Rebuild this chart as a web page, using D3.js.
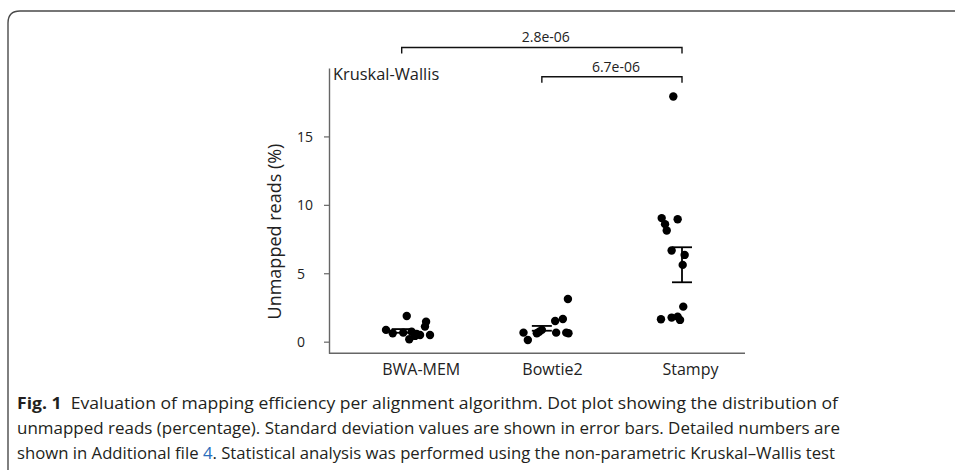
<!DOCTYPE html>
<html>
<head>
<meta charset="utf-8">
<script src="https://cdn.jsdelivr.net/npm/d3@7"></script>
<style>
  body { margin: 0; background: #fff; }
  svg { display: block; }
</style>
</head>
<body>
<div id="chartDiv"></div>
<script>
// categories and readings taken from the figure
const categories = ['BWA-MEM', 'Bowtie2', 'Stampy']

const bwaValues = [0.86, 0.61, 1.88, 0.66, 0.18, 0.73, 0.56, 0.49, 1.46, 1.10, 0.49, 0.42]
const bwaJitter = [-0.112, -0.064, 0.036, 0.011, 0.054, 0.071, 0.107, 0.131, 0.174, 0.166, 0.202, 0.095]

const bowtieValues = [0.66, 0.12, 0.61, 0.73, 0.86, 1.51, 0.66, 1.66, 0.66, 0.61, 3.12]
const bowtieJitter = [-0.131, -0.1, -0.036, -0.019, 0, 0.095, 0.102, 0.15, 0.174, 0.19, 0.186]

const stampyValues = [9.03, 8.59, 8.12, 8.95, 6.66, 6.34, 5.61, 2.56, 1.64, 1.76, 1.83, 1.59, 17.92]
const stampyJitter = [-0.145, -0.121, -0.109, -0.031, -0.074, 0.019, 0.005, 0.009, -0.15, -0.074, -0.031, -0.014, -0.062]

// error bar ends per category
const errLow = [0.65, 0.80, 4.34]
const errHigh = [0.92, 1.15, 6.90]

const yTicks = [0, 5, 10, 15]

// pairwise comparisons (Kruskal-Wallis)
const compFrom = ['BWA-MEM', 'Bowtie2']
const compTo = ['Stampy', 'Stampy']
const compP = ['2.8e-06', '6.7e-06']
const compLevel = [21.5, 19.36]

const captionLines = [
  'Evaluation of mapping efficiency per alignment algorithm. Dot plot showing the distribution of',
  'unmapped reads (percentage). Standard deviation values are shown in error bars. Detailed numbers are',
  'shown in Additional file ', '4', '. Statistical analysis was performed using the non-parametric Kruskal\u2013Wallis test'
]

const width = 955
const height = 470
const margin = { top: 68, right: 255, bottom: 116.7, left: 329 }
const font = '"Open Sans", "Noto Sans", sans-serif'

const svg = d3.select('#chartDiv').append('svg')
  .attr('width', width)
  .attr('height', height)

// figure frame with rounded top-left corner
svg.append('path')
  .attr('d', 'M8,470 V23 Q8,11 20,11 H955')
  .attr('fill', 'none')
  .attr('stroke', '#4a4a4a')
  .attr('stroke-width', 1.4)

const xScale = d3.scalePoint()
  .domain(categories)
  .range([401.7, 682])

const yScale = d3.scaleLinear()
  .domain([-0.85, 20])
  .range([height - margin.bottom, margin.top])

// y axis
const yAxis = d3.axisLeft(yScale)
  .tickValues(yTicks)
  .tickSize(5)
  .tickSizeOuter(0)
  .tickFormat(d3.format('d'))

const yg = svg.append('g')
  .attr('transform', `translate(${margin.left},0)`)
  .call(yAxis)
yg.select('.domain').attr('stroke', '#666').attr('stroke-width', 1.4)
yg.selectAll('.tick line').attr('stroke', '#666').attr('stroke-width', 1.2)
yg.selectAll('.tick text')
  .attr('text-anchor', 'start')
  .attr('x', -32)
  .attr('dy', '0.36em')
  .attr('fill', '#222')
  .style('font-family', font)
  .style('font-size', '14px')

// x axis line
svg.append('line')
  .attr('x1', margin.left)
  .attr('x2', width - margin.right + 45)
  .attr('y1', height - margin.bottom)
  .attr('y2', height - margin.bottom)
  .attr('stroke', '#666')
  .attr('stroke-width', 1.4)

const xAxis = d3.axisBottom(xScale).tickSize(0)
const xg = svg.append('g')
  .attr('transform', `translate(0,${height - margin.bottom})`)
  .call(xAxis)
xg.select('.domain').remove()
xg.selectAll('.tick text')
  .attr('text-anchor', 'start')
  .attr('x', -20)
  .attr('y', 10)
  .attr('fill', '#222')
  .style('font-family', font)
  .style('font-size', '16px')

// y axis title
svg.append('text')
  .attr('transform', `translate(281,${yScale(8.05)}) rotate(-90)`)
  .attr('text-anchor', 'middle')
  .attr('fill', '#222')
  .style('font-family', font)
  .style('font-size', '18px')
  .text('Unmapped reads (%)')

svg.append('text')
  .attr('x', margin.left + 4)
  .attr('y', 80)
  .attr('fill', '#222')
  .style('font-family', font)
  .style('font-size', '16.4px')
  .text('Kruskal-Wallis')

// dots
const series = [
  { cat: 'BWA-MEM', values: bwaValues, jitter: bwaJitter },
  { cat: 'Bowtie2', values: bowtieValues, jitter: bowtieJitter },
  { cat: 'Stampy', values: stampyValues, jitter: stampyJitter }
]
const points = series.flatMap(s => s.values.map((v, i) => ({ cat: s.cat, v, j: s.jitter[i] })))

svg.append('g').selectAll('circle')
  .data(points)
  .enter()
  .append('circle')
  .attr('cx', d => xScale(d.cat) + d.j * xScale.step())
  .attr('cy', d => yScale(d.v))
  .attr('r', 4.2)
  .attr('fill', '#000')

// error bars
const errData = categories.map((c, i) => ({ cat: c, lo: errLow[i], hi: errHigh[i] }))
const eg = svg.append('g').attr('stroke', '#000').attr('stroke-width', 1.8)
eg.selectAll('.stem').data(errData).enter().append('line')
  .attr('x1', d => xScale(d.cat)).attr('x2', d => xScale(d.cat))
  .attr('y1', d => yScale(d.lo)).attr('y2', d => yScale(d.hi))
eg.selectAll('.capHi').data(errData).enter().append('line')
  .attr('x1', d => xScale(d.cat) - 10).attr('x2', d => xScale(d.cat) + 10)
  .attr('y1', d => yScale(d.hi)).attr('y2', d => yScale(d.hi))
eg.selectAll('.capLo').data(errData).enter().append('line')
  .attr('x1', d => xScale(d.cat) - 10).attr('x2', d => xScale(d.cat) + 10)
  .attr('y1', d => yScale(d.lo)).attr('y2', d => yScale(d.lo))

// comparison brackets
const comps = compFrom.map((f, i) => ({ a: f, b: compTo[i], p: compP[i], level: compLevel[i] }))
const bg = svg.append('g')
comps.forEach(c => {
  const x1 = xScale(c.a)
  const x2 = xScale(c.b)
  const y = yScale(c.level)
  bg.append('path')
    .attr('d', `M${x1},${y + 6} V${y} H${x2} V${y + 6}`)
    .attr('fill', 'none')
    .attr('stroke', '#111')
    .attr('stroke-width', 1.4)
  bg.append('text')
    .attr('x', (x1 + x2) / 2 + 4)
    .attr('y', y - 5)
    .attr('text-anchor', 'middle')
    .attr('fill', '#222')
    .style('font-family', font)
    .style('font-size', '14px')
    .text(c.p)
})

// caption, squeezed to the width of the printed lines
const cap = svg.append('g')
  .style('font-family', font)
  .style('font-size', '16.5px')
  .attr('fill', '#231f20')

const line1 = cap.append('text').attr('x', 17).attr('y', 409)
  .attr('textLength', 821).attr('lengthAdjust', 'spacingAndGlyphs')
line1.append('tspan').style('font-weight', 'bold').text('Fig. 1')
line1.append('tspan').text('\u00a0 ' + captionLines[0])

cap.append('text').attr('x', 17).attr('y', 434)
  .attr('textLength', 823).attr('lengthAdjust', 'spacingAndGlyphs')
  .text(captionLines[1])

const line3 = cap.append('text').attr('x', 17).attr('y', 459)
  .attr('textLength', 818).attr('lengthAdjust', 'spacingAndGlyphs')
line3.append('tspan').text(captionLines[2])
line3.append('tspan').attr('fill', '#2a6ebb').text(captionLines[3])
line3.append('tspan').text(captionLines[4])
</script>
</body>
</html>
